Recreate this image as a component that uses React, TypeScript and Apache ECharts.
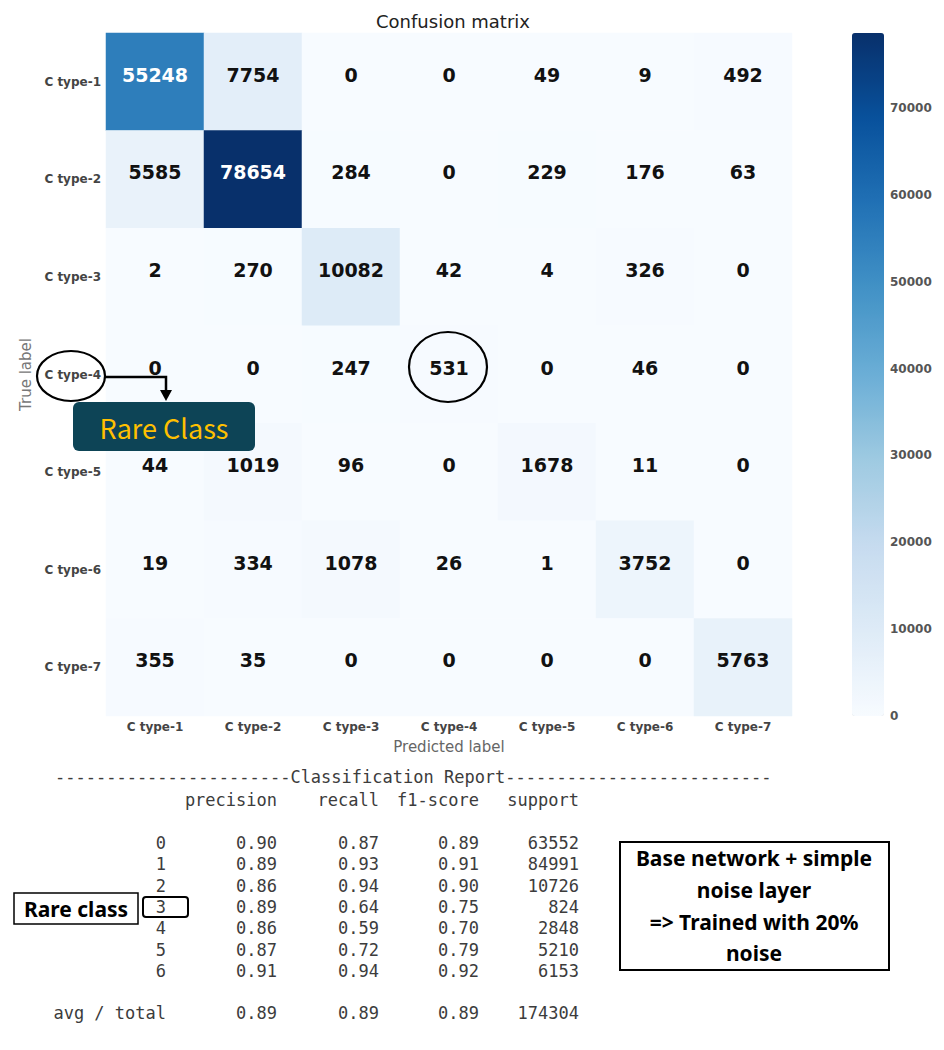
import React, { useEffect, useRef } from "react";
import * as echarts from "echarts";

const classes = ["C type-1", "C type-2", "C type-3", "C type-4", "C type-5", "C type-6", "C type-7"];
const matrix: number[][] = [
  [55248, 7754, 0, 0, 49, 9, 492],
  [5585, 78654, 284, 0, 229, 176, 63],
  [2, 270, 10082, 42, 4, 326, 0],
  [0, 0, 247, 531, 0, 46, 0],
  [44, 1019, 96, 0, 1678, 11, 0],
  [19, 334, 1078, 26, 1, 3752, 0],
  [355, 35, 0, 0, 0, 0, 5763],
];
const colorbarMax = 78654;
const colorbarInterval = 10000;
const blues = ["#f7fbff", "#deebf7", "#c6dbef", "#9ecae1", "#6baed6", "#4292c6", "#2171b5", "#08519c", "#08306b"];

const reportHeader = ["precision", "recall", "f1-score", "support"];
const reportRows: string[][] = [
  ["0", "0.90", "0.87", "0.89", "63552"],
  ["1", "0.89", "0.93", "0.91", "84991"],
  ["2", "0.86", "0.94", "0.90", "10726"],
  ["3", "0.89", "0.64", "0.75", "824"],
  ["4", "0.86", "0.59", "0.70", "2848"],
  ["5", "0.87", "0.72", "0.79", "5210"],
  ["6", "0.91", "0.94", "0.92", "6153"],
];
const reportTotal = ["avg / total", "0.89", "0.89", "0.89", "174304"];
const reportTitle = "-----------------------Classification Report--------------------------";
const noteLines = ["Base network + simple", "noise layer", "=> Trained with 20%", "noise"];

export default function App() {
  const ref = useRef<HTMLDivElement>(null);
  useEffect(() => {
    document.body.style.margin = "0";
    const chart = echarts.init(ref.current!, null, { renderer: "svg" });
    const half = colorbarMax / 2;
    const data: any[] = [];
    matrix.forEach((row, r) =>
      row.forEach((v, c) => {
        data.push({ value: [c, r, v], label: { color: v > half ? "#ffffff" : "#111111" } });
      })
    );

    const mono = "'DejaVu Sans Mono', monospace";
    const reportColor = "#3c3c3c";
    const colRight = [166, 277, 379, 479, 579];
    const rowY0 = 843;
    const rowStep = 21.3;
    const graphics: any[] = [];
    graphics.push({
      type: "text", x: 55, y: 777,
      style: { text: reportTitle, font: `17px ${mono}`, fill: reportColor, textAlign: "left", textVerticalAlign: "middle" },
    });
    reportHeader.forEach((h, i) => {
      graphics.push({
        type: "text", x: colRight[i + 1], y: 800,
        style: { text: h, font: `17px ${mono}`, fill: reportColor, textAlign: "right", textVerticalAlign: "middle" },
      });
    });
    reportRows.forEach((row, r) => {
      row.forEach((cell, i) => {
        graphics.push({
          type: "text", x: colRight[i], y: rowY0 + r * rowStep,
          style: { text: cell, font: `17px ${mono}`, fill: reportColor, textAlign: "right", textVerticalAlign: "middle" },
        });
      });
    });
    reportTotal.forEach((cell, i) => {
      graphics.push({
        type: "text", x: colRight[i], y: 1013,
        style: { text: cell, font: `17px ${mono}`, fill: reportColor, textAlign: "right", textVerticalAlign: "middle" },
      });
    });

    // Annotations
    graphics.push({ type: "ellipse", shape: { cx: 71, cy: 376, rx: 34, ry: 25 }, style: { fill: "none", stroke: "#000", lineWidth: 2.2 }, z: 10 });
    graphics.push({ type: "ellipse", shape: { cx: 448, cy: 367, rx: 39, ry: 35 }, style: { fill: "none", stroke: "#000", lineWidth: 2.2 }, z: 10 });
    graphics.push({ type: "polyline", shape: { points: [[105, 377], [166, 377], [166, 392]] }, style: { fill: "none", stroke: "#000", lineWidth: 2.5 }, z: 10 });
    graphics.push({ type: "polygon", shape: { points: [[160, 390], [172, 390], [166, 401]] }, style: { fill: "#000" }, z: 10 });
    graphics.push({ type: "rect", shape: { x: 73, y: 402, width: 182, height: 49, r: 6 }, style: { fill: "#0d4456" }, z: 10 });
    graphics.push({
      type: "text", x: 164, y: 427, z: 11,
      style: { text: "Rare Class", font: "27px 'Noto Sans CJK JP', 'Noto Sans', sans-serif", fill: "#ffc000", textAlign: "center", textVerticalAlign: "middle" },
    });
    graphics.push({ type: "rect", shape: { x: 14, y: 893, width: 124, height: 31 }, style: { fill: "#fff", stroke: "#000", lineWidth: 1.5 }, z: 10 });
    graphics.push({
      type: "text", x: 76, y: 909, z: 11,
      style: { text: "Rare class", font: "bold 21px 'Noto Sans', sans-serif", fill: "#000", textAlign: "center", textVerticalAlign: "middle" },
    });
    graphics.push({ type: "rect", shape: { x: 143, y: 897, width: 45, height: 20, r: 3 }, style: { fill: "none", stroke: "#000", lineWidth: 2 }, z: 10 });
    graphics.push({ type: "rect", shape: { x: 620, y: 842, width: 269, height: 128 }, style: { fill: "#fff", stroke: "#000", lineWidth: 2 }, z: 10 });
    const noteY = [858, 890, 922, 953];
    noteLines.forEach((t, i) => {
      graphics.push({
        type: "text", x: 754, y: noteY[i], z: 11,
        style: { text: t, font: "bold 21px 'Noto Sans', sans-serif", fill: "#000", textAlign: "center", textVerticalAlign: "middle" },
      });
    });

    chart.setOption({
      animation: false,
      backgroundColor: "#ffffff",
      title: {
        text: "Confusion matrix", left: 448, top: 7, textAlign: "center",
        textStyle: { fontSize: 18, fontWeight: "normal", color: "#222", fontFamily: "DejaVu Sans" },
      },
      grid: [
        { left: 106, top: 33, width: 686, height: 683 },
        { left: 852, top: 33, width: 32, height: 683 },
      ],
      xAxis: [
        {
          type: "category", data: classes, gridIndex: 0,
          axisLine: { show: false }, axisTick: { show: false }, splitLine: { show: false },
          axisLabel: { fontSize: 12, fontWeight: "bold", color: "#444", fontFamily: "DejaVu Sans", margin: 5 },
          name: "Predicted label", nameLocation: "middle", nameGap: 23,
          nameTextStyle: { fontSize: 15, color: "#666", fontFamily: "DejaVu Sans" },
        },
        { type: "value", gridIndex: 1, show: false, min: 0, max: 1 },
      ],
      yAxis: [
        {
          type: "category", data: classes, inverse: true, gridIndex: 0,
          axisLine: { show: false }, axisTick: { show: false }, splitLine: { show: false },
          axisLabel: { fontSize: 12, fontWeight: "bold", color: "#444", fontFamily: "DejaVu Sans", margin: 5 },
          name: "True label", nameLocation: "middle", nameGap: 70, nameRotate: 90,
          nameTextStyle: { fontSize: 15, color: "#777", fontFamily: "DejaVu Sans" },
        },
        {
          type: "value", gridIndex: 1, position: "right", min: 0, max: colorbarMax, interval: colorbarInterval,
          axisLine: { show: false }, axisTick: { show: false }, splitLine: { show: false },
          axisLabel: {
            fontSize: 12, fontWeight: "bold", color: "#555", fontFamily: "DejaVu Sans", margin: 6,
            showMaxLabel: false,
            formatter: (v: number) => (v % colorbarInterval === 0 ? String(v) : ""),
          },
        },
      ],
      visualMap: {
        type: "continuous", min: 0, max: colorbarMax, seriesIndex: 0, calculable: false,
        orient: "vertical", left: 852, top: 33, itemWidth: 32, itemHeight: 683, padding: 0,
        text: ["", ""], inRange: { color: blues }, hoverLink: false,
      },
      series: [
        {
          type: "heatmap", xAxisIndex: 0, yAxisIndex: 0, data,
          label: { show: true, fontSize: 19, fontWeight: "bold", fontFamily: "DejaVu Sans", offset: [0, -7] },
          itemStyle: { borderWidth: 0 },
          emphasis: { disabled: true },
        },
        { type: "line", xAxisIndex: 1, yAxisIndex: 1, data: [] },
      ],
      graphic: graphics,
    });
    return () => chart.dispose();
  }, []);
  return <div ref={ref} style={{ width: 944, height: 1050 }} />;
}
